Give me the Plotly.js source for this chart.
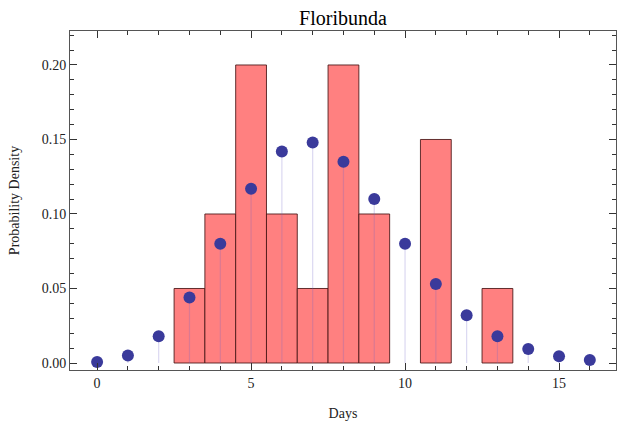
<!DOCTYPE html>
<html>
<head>
<meta charset="utf-8">
<script src="https://cdn.plot.ly/plotly-3.0.1.min.js"></script>
<style>html,body{margin:0;padding:0;background:#fff;}</style>
</head>
<body>
<div id="chart" style="width:617px;height:423px;"></div>
<script>
// Histogram bins (centers) and densities
const binCenters = [3, 4, 5, 6, 7, 8, 9, 11, 13];
const binDensity = [0.05, 0.10, 0.20, 0.10, 0.05, 0.20, 0.10, 0.15, 0.05];
// Fitted distribution points
const days = [0, 1, 2, 3, 4, 5, 6, 7, 8, 9, 10, 11, 12, 13, 14, 15, 16];
const fitDensity = [0.0007, 0.005, 0.018, 0.044, 0.080, 0.117, 0.142, 0.148, 0.135, 0.110, 0.080, 0.053, 0.032, 0.018, 0.0094, 0.0045, 0.002];

const stemX = [], stemY = [];
days.forEach((d, i) => { stemX.push(d, d, null); stemY.push(0, fitDensity[i], null); });

const axisCommon = {
  showgrid: false, zeroline: false, showline: true, linecolor: '#555', linewidth: 1,
  mirror: 'allticks', ticks: 'inside', tickcolor: '#333', ticklen: 7, tickwidth: 1,
  tickfont: {family: 'Liberation Serif', size: 14, color: '#222'}
};

const data = [
  {type: 'bar', x: binCenters, y: binDensity, width: 1,
   marker: {color: 'rgb(255,128,128)', line: {color: 'rgba(70,20,20,0.85)', width: 1}},
   hoverinfo: 'skip'},
  {type: 'scatter', mode: 'lines', x: stemX, y: stemY,
   line: {color: 'rgba(110,100,200,0.25)', width: 1.2}, hoverinfo: 'skip'},
  {type: 'scatter', mode: 'markers', x: days, y: fitDensity,
   marker: {color: 'rgb(58,58,155)', size: 12}}
];

const layout = {
  width: 617, height: 423,
  margin: {l: 70, r: 1, t: 31, b: 53},
  paper_bgcolor: '#fff', plot_bgcolor: '#fff',
  showlegend: false,
  bargap: 0,
  title: {text: 'Floribunda', font: {family: 'Liberation Serif', size: 20, color: '#000'}, xref: 'paper', x: 0.5, xanchor: 'center', yref: 'container', y: 0.975, yanchor: 'top'},
  xaxis: Object.assign({}, axisCommon, {
    range: [-0.88, 16.85], tickvals: [0, 5, 10, 15], ticktext: ['0', '5', '10', '15'],
    minor: {dtick: 1, tick0: 0, ticks: 'inside', ticklen: 4, tickcolor: '#333'},
    title: {text: 'Days', font: {family: 'Liberation Serif', size: 14, color: '#222'}, standoff: 18}
  }),
  yaxis: Object.assign({}, axisCommon, {
    range: [-0.0047, 0.2228], tickvals: [0, 0.05, 0.10, 0.15, 0.20], ticktext: ['0.00', '0.05', '0.10', '0.15', '0.20'],
    minor: {dtick: 0.01, tick0: 0, ticks: 'inside', ticklen: 4, tickcolor: '#333'},
    title: {text: 'Probability Density', font: {family: 'Liberation Serif', size: 14, color: '#222'}, standoff: 18}
  })
};

Plotly.newPlot('chart', data, layout, {displayModeBar: false, staticPlot: true});
</script>
</body>
</html>
